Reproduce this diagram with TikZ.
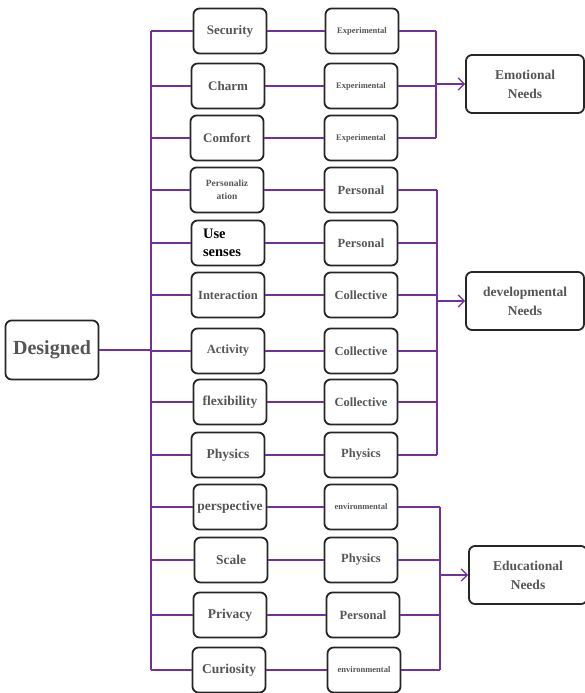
\documentclass[tikz,border=0pt]{standalone}
\usepackage{fontspec}
\setmainfont{Liberation Serif}
\usetikzlibrary{arrows.meta}
\definecolor{pcol}{HTML}{7030A0}
\definecolor{txt}{HTML}{555555}
\newcommand{\fs}[1]{\fontsize{#1pt}{\dimexpr #1pt*6/5\relax}\selectfont}
\begin{document}
\begin{tikzpicture}[x=1pt,y=-1pt,
  box/.style={draw=black!85, line width=1.8pt, rounded corners=6pt, fill=white, text=txt,
    font=\bfseries\fs{13}, align=center, inner sep=1pt, minimum width=73pt, minimum height=45pt},
  small/.style={font=\bfseries\fs{8.5}},
  need/.style={box, minimum width=118pt, minimum height=58pt, font=\bfseries\fs{13.5}},
  con/.style={draw=pcol, line width=1.3pt},
  arr/.style={con, -{Straight Barb[length=6pt,width=12pt]}}]
\useasboundingbox (0,0) rectangle (585,693);
% bus coordinates
\coordinate (busL) at (151,0);
\coordinate (busE) at (436,0);
\coordinate (busD) at (437,0);
\coordinate (busU) at (440,0);
% Designed
\node[box, minimum width=93pt, minimum height=59pt, font=\bfseries\fs{20}] (des) at (52,350) {Designed};
% left column
\node[box] (l1) at (230,31) {Security};
\node[box] (l2) at (228,86) {Charm};
\node[box] (l3) at (227,138) {Comfort};
\node[box, font=\bfseries\fs{9.5}] (l4) at (227,190) {Personaliz\\[2pt]ation};
\node[box, text=black, font=\bfseries\fs{14.5}, align=left] (l5) at (228,243) {Use\\[1pt]senses\hspace*{12pt}};
\node[box, font=\bfseries\fs{12.5}] (l6) at (228,295) {Interaction};
\node[box, font=\bfseries\fs{12.5}] (l7) at (228,351) {Activity};
\node[box, font=\bfseries\fs{13.5}] (l8) at (230,402) {flexibility};
\node[box, font=\bfseries\fs{13.5}] (l9) at (228,455) {Physics};
\node[box, font=\bfseries\fs{13.5}] (l10) at (230,507) {perspective};
\node[box, font=\bfseries\fs{13.5}] (l11) at (231,560) {Scale};
\node[box, font=\bfseries\fs{13.5}] (l12) at (230,615) {Privacy};
\node[box, font=\bfseries\fs{13.5}] (l13) at (229,670) {Curiosity};
% middle column
\node[box, small] (m1) at (362,31) {Experimental};
\node[box, small] (m2) at (361,86) {Experimental};
\node[box, small] (m3) at (361,138) {Experimental};
\node[box, font=\bfseries\fs{12.5}] (m4) at (361,190) {Personal};
\node[box, font=\bfseries\fs{12.5}] (m5) at (361,243) {Personal};
\node[box, font=\bfseries\fs{12.5}] (m6) at (361,295) {Collective};
\node[box, font=\bfseries\fs{12.5}] (m7) at (361,351) {Collective};
\node[box, font=\bfseries\fs{12.5}] (m8) at (361,402) {Collective};
\node[box, font=\bfseries\fs{12.5}] (m9) at (361,455) {Physics};
\node[box, small] (m10) at (361,507) {environmental};
\node[box, font=\bfseries\fs{12.5}] (m11) at (361,560) {Physics};
\node[box, font=\bfseries\fs{12.5}] (m12) at (363,615) {Personal};
\node[box, small] (m13) at (364,670) {environmental};
% needs
\node[need] (emo) at (525,84) {Emotional\\[3pt]Needs};
\node[need] (dev) at (525,301) {developmental\\[3pt]Needs};
\node[need] (edu) at (528,575) {Educational\\[3pt]Needs};
% left bus
\draw[con] (des.east) -- (des.east -| busL);
\draw[con] (l1.west -| busL) -- (l13.west -| busL);
\foreach \i in {1,...,13} {
  \draw[con] (l\i.west) -- (l\i.west -| busL);
  \draw[con] (l\i.east) -- (m\i.west);
}
% right buses
\foreach \i in {1,2,3} \draw[con] (m\i.east) -- (m\i.east -| busE);
\draw[con] (m1.east -| busE) -- (m3.east -| busE);
\draw[arr] (emo.west -| busE) -- (emo.west);
\foreach \i in {4,...,9} \draw[con] (m\i.east) -- (m\i.east -| busD);
\draw[con] (m4.east -| busD) -- (m9.east -| busD);
\draw[arr] (dev.west -| busD) -- (dev.west);
\foreach \i in {10,...,13} \draw[con] (m\i.east) -- (m\i.east -| busU);
\draw[con] (m10.east -| busU) -- (m13.east -| busU);
\draw[arr] (edu.west -| busU) -- (edu.west);
\end{tikzpicture}
\end{document}
